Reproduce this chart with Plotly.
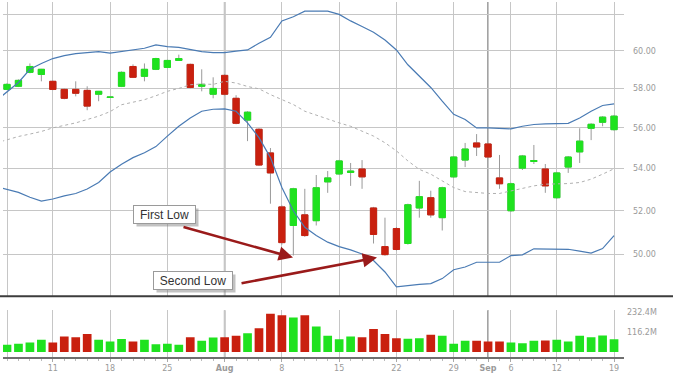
import plotly.graph_objects as go

# ---------------- data ----------------
dates = [
    "2011-07-05", "2011-07-06", "2011-07-07", "2011-07-08",
    "2011-07-11", "2011-07-12", "2011-07-13", "2011-07-14", "2011-07-15",
    "2011-07-18", "2011-07-19", "2011-07-20", "2011-07-21", "2011-07-22",
    "2011-07-25", "2011-07-26", "2011-07-27", "2011-07-28", "2011-07-29",
    "2011-08-01", "2011-08-02", "2011-08-03", "2011-08-04", "2011-08-05",
    "2011-08-08", "2011-08-09", "2011-08-10", "2011-08-11", "2011-08-12",
    "2011-08-15", "2011-08-16", "2011-08-17", "2011-08-18", "2011-08-19",
    "2011-08-22", "2011-08-23", "2011-08-24", "2011-08-25", "2011-08-26",
    "2011-08-29", "2011-08-30", "2011-08-31", "2011-09-01", "2011-09-02",
    "2011-09-06", "2011-09-07", "2011-09-08", "2011-09-09",
    "2011-09-12", "2011-09-13", "2011-09-14", "2011-09-15", "2011-09-16",
    "2011-09-19",
]
band_dates = ["2011-07-01"] + dates

open_ = [57.96, 58.12, 58.85, 58.74, 58.38, 57.96, 57.96, 57.91, 57.71, 57.55,
         58.12, 59.16, 58.64, 59.01, 59.11, 59.48, 59.27, 58.12, 57.71, 58.69,
         57.50, 56.39, 55.93, 54.76, 52.18, 51.32, 51.81, 51.54, 53.36, 53.74,
         53.81, 53.98, 52.13, 50.36, 51.18, 50.50, 52.13, 52.61, 51.68, 53.60,
         54.41, 55.25, 55.20, 53.55, 52.00, 54.02, 54.34, 53.98, 52.61, 54.07,
         54.81, 55.98, 56.28, 55.91]
high = [58.28, 58.48, 59.32, 59.03, 58.42, 58.00, 58.38, 58.12, 57.88, 57.58,
        58.90, 59.27, 59.32, 59.62, 59.52, 59.79, 59.31, 59.01, 58.59, 58.75,
        57.66, 56.84, 55.98, 55.00, 52.25, 53.08, 53.03, 53.69, 53.88, 54.42,
        54.27, 54.41, 52.18, 51.68, 51.25, 52.33, 53.41, 52.94, 53.13, 54.61,
        55.25, 55.69, 55.25, 54.66, 53.32, 54.66, 55.15, 54.22, 53.84, 54.61,
        55.98, 56.23, 56.59, 56.65]
low = [57.92, 58.08, 58.80, 58.38, 57.92, 57.45, 57.60, 56.89, 57.35, 57.53,
       58.08, 58.55, 58.38, 58.97, 59.07, 59.45, 58.02, 57.86, 57.50, 57.65,
       56.18, 55.34, 54.12, 52.33, 50.45, 49.96, 50.80, 51.32, 52.84, 53.70,
       53.17, 53.03, 50.50, 49.95, 50.18, 50.45, 51.68, 51.68, 51.09, 53.55,
       54.07, 54.61, 54.51, 53.03, 51.95, 53.93, 54.22, 52.84, 52.56, 53.79,
       54.27, 55.39, 56.08, 55.86]
close = [58.22, 58.43, 59.16, 59.01, 57.96, 57.50, 57.76, 57.10, 57.86, 57.56,
         58.85, 58.59, 59.01, 59.58, 59.48, 59.58, 58.06, 58.22, 58.01, 57.71,
         56.23, 56.79, 54.17, 53.79, 50.54, 53.03, 50.86, 53.08, 53.55, 54.37,
         53.88, 53.60, 50.91, 50.00, 50.23, 52.28, 52.66, 51.81, 53.08, 54.56,
         54.95, 55.05, 54.56, 53.27, 53.27, 54.61, 54.39, 53.17, 53.79, 54.56,
         55.34, 56.18, 56.54, 56.59]
volume_m = [42, 48, 56, 72, 56, 91, 87, 105, 72, 62,
            76, 62, 72, 46, 48, 42, 87, 66, 85, 87,
            95, 110, 139, 223, 215, 201, 215, 149, 95, 75,
            91, 87, 135, 105, 81, 77, 81, 101, 95, 48,
            66, 66, 62, 62, 56, 52, 66, 68, 72, 62,
            95, 87, 97, 75]

# Bollinger bands (starting Jul 1)
upper_band = [57.35, 57.81, 58.32, 59.01, 59.32, 59.58, 59.74, 59.84, 59.90, 59.95,
              59.87, 59.95, 60.04, 60.13, 60.31, 60.22, 60.18, 60.07, 59.95, 59.90,
              59.90, 59.98, 60.04, 60.40, 60.72, 61.62, 61.85, 62.16, 62.18, 62.16,
              61.98, 61.62, 61.31, 61.00, 60.58, 60.04, 59.25, 58.64, 58.06, 57.35,
              56.68, 56.42, 56.00, 56.00, 55.97, 55.95, 56.08, 56.17, 56.20, 56.20,
              56.23, 56.50, 56.84, 57.13, 57.21]
middle_band = [55.24, 55.40, 55.57, 55.69, 55.82, 56.00, 56.12, 56.25, 56.42, 56.59,
               56.82, 57.17, 57.30, 57.43, 57.63, 57.86, 58.01, 58.20, 58.24, 58.22,
               58.38, 58.29, 58.11, 57.99, 57.69, 57.44, 57.18, 56.84, 56.63, 56.42,
               56.25, 56.08, 55.83, 55.59, 55.26, 54.86, 54.37, 53.96, 53.73, 53.41,
               53.09, 52.90, 52.85, 52.81, 52.81, 52.94, 53.06, 53.17, 53.25, 53.25,
               53.28, 53.33, 53.49, 53.73, 53.99]
lower_band = [53.14, 53.00, 52.86, 52.63, 52.45, 52.55, 52.70, 52.81, 53.02, 53.33,
              53.83, 54.21, 54.53, 54.77, 55.07, 55.59, 56.08, 56.50, 56.84, 56.94,
              56.96, 56.84, 56.25, 55.51, 54.53, 53.09, 52.00, 51.24, 50.86, 50.56,
              50.36, 50.21, 50.03, 49.74, 49.23, 48.58, 48.65, 48.69, 48.72, 48.94,
              49.33, 49.45, 49.66, 49.66, 49.66, 49.96, 49.99, 50.26, 50.26, 50.26,
              50.24, 50.16, 50.07, 50.27, 50.86]

tick_dates = ["2011-07-05", "2011-07-11", "2011-07-18", "2011-07-25", "2011-08-01",
              "2011-08-08", "2011-08-15", "2011-08-22", "2011-08-29", "2011-09-01",
              "2011-09-06", "2011-09-12", "2011-09-19"]
tick_labels = ["", "11", "18", "25", "<b>Aug</b>", "8", "15", "22", "29", "<b>Sep</b>",
               "6", "12", "19"]
month_dates = ["2011-08-01", "2011-09-01"]

price_ticks = [50, 52, 54, 56, 58, 60, 62]
price_tick_labels = ["50.00", "52.00", "54.00", "56.00", "58.00", "60.00", ""]
vol_ticks = [116.2, 232.4]
vol_tick_labels = ["116.2M", "232.4M"]

# ---------------- styling ----------------
GREEN = "#1fe21f"
RED = "#c9200f"
WICK = "#9a9a9a"
BAND = "#4a7bb4"
GRID = "#c6c6c6"
TICKFONT = dict(family="DejaVu Sans", size=8, color="#9a9a9a")

pos = {d: i for i, d in enumerate(band_dates)}
xc = [pos[d] for d in dates]
xb = [pos[d] for d in band_dates]
body_hi = [max(o, c) for o, c in zip(open_, close)]
body_lo = [min(o, c) for o, c in zip(open_, close)]
vol_colors = [GREEN if c >= o else RED for o, c in zip(open_, close)]

fig = go.Figure()

# wicks
fig.add_trace(go.Candlestick(
    x=xc, open=open_, high=high, low=low, close=close,
    increasing=dict(line=dict(color=WICK, width=1), fillcolor=WICK),
    decreasing=dict(line=dict(color=WICK, width=1), fillcolor=WICK),
    whiskerwidth=0, xaxis="x", yaxis="y", hoverinfo="skip"))
# bodies
fig.add_trace(go.Candlestick(
    x=xc, open=open_, high=body_hi, low=body_lo, close=close,
    increasing=dict(line=dict(color=GREEN, width=1), fillcolor=GREEN),
    decreasing=dict(line=dict(color=RED, width=1), fillcolor=RED),
    whiskerwidth=0, xaxis="x", yaxis="y"))

fig.add_trace(go.Scatter(x=xb, y=upper_band, mode="lines",
                         line=dict(color=BAND, width=1.2), xaxis="x", yaxis="y"))
fig.add_trace(go.Scatter(x=xb, y=lower_band, mode="lines",
                         line=dict(color=BAND, width=1.2), xaxis="x", yaxis="y"))
fig.add_trace(go.Scatter(x=xb, y=middle_band, mode="lines",
                         line=dict(color="#b0b0b0", width=1, dash="dot"),
                         xaxis="x", yaxis="y"))

fig.add_trace(go.Bar(x=xc, y=volume_m, marker=dict(color=vol_colors, line=dict(width=0)),
                     xaxis="x2", yaxis="y2"))

xr = [0.65, 54.87]
tickpos = [pos[d] for d in tick_dates]
MAIN_BOTTOM = 0.1709
VOL_TOP = 0.1317

fig.update_layout(
    width=673, height=375,
    margin=dict(l=3, r=49, t=0, b=18),
    paper_bgcolor="white", plot_bgcolor="white",
    showlegend=False, hovermode=False,
    boxgap=0.22, bargap=0.24,
    xaxis=dict(domain=[0, 1], range=xr, anchor="y", tickmode="array",
               tickvals=tickpos, showticklabels=False, showgrid=True,
               gridcolor=GRID, gridwidth=1, zeroline=False, showline=False,
               rangeslider=dict(visible=False), ticks=""),
    yaxis=dict(domain=[MAIN_BOTTOM, 1], type="log", range=[1.68278, 1.79706],
               side="right", tickmode="array", tickvals=price_ticks,
               ticktext=price_tick_labels, showgrid=True, gridcolor=GRID,
               gridwidth=1, zeroline=False, showline=False, ticks="",
               tickfont=TICKFONT, ticklabelstandoff=8),
    xaxis2=dict(domain=[0, 1], range=xr, anchor="y2", tickmode="array",
                tickvals=tickpos, ticktext=tick_labels, showgrid=True,
                gridcolor=GRID, gridwidth=1, zeroline=False, showline=True,
                linecolor="#6f6f6f", linewidth=1.5, ticks="outside", ticklen=3,
                tickcolor="#aaaaaa", tickfont=TICKFONT,
                minor=dict(tickmode="array", tickvals=xc, ticks="outside",
                           ticklen=2, tickcolor="#bbbbbb", showgrid=False)),
    yaxis2=dict(domain=[0, VOL_TOP], range=[-29.05, 244.0], side="right",
                tickmode="array", tickvals=vol_ticks, ticktext=vol_tick_labels,
                showgrid=False, zeroline=False, showline=False, ticks="",
                tickfont=TICKFONT, ticklabelstandoff=2),
)

shapes = []
for d in month_dates:
    for xref, yref in (("x", "y domain"), ("x2", "y2 domain")):
        shapes.append(dict(type="line", xref=xref, yref=yref, x0=pos[d], x1=pos[d],
                           y0=0, y1=1, line=dict(color="#7c7c7c", width=1.5),
                           layer="below"))
shapes.append(dict(type="line", xref="paper", yref="paper", x0=-0.01, x1=1.09,
                   y0=MAIN_BOTTOM, y1=MAIN_BOTTOM,
                   line=dict(color="#3c3c3c", width=2)))
fig.update_layout(shapes=shapes)

ARROW = "#9a1a1a"
LBLFONT = dict(family="Liberation Sans, Arial", size=12, color="#333333")
boxes = [
    ("First Low", 0.260, 0.402, 59),
    ("Second Low", 0.306, 0.2157, 76),
]
annotations = []
for txt, bx, by, w in boxes:
    # drop shadow
    annotations.append(dict(xref="paper", yref="paper", x=bx, y=by, text="&nbsp;",
                            xanchor="center", yanchor="middle",
                            showarrow=False, xshift=3, yshift=-3, width=w, height=15,
                            font=dict(family="Liberation Sans, Arial", size=12,
                                      color="rgba(0,0,0,0)"),
                            bgcolor="rgba(120,120,120,0.45)",
                            bordercolor="rgba(120,120,120,0.0)", borderwidth=1,
                            borderpad=1))
    annotations.append(dict(xref="paper", yref="paper", x=bx, y=by, text=txt,
                            xanchor="center", yanchor="middle",
                            showarrow=False, width=w, height=15, font=LBLFONT,
                            bgcolor="white", bordercolor="#9a9a9a", borderwidth=1,
                            borderpad=1))
arrows = [
    (0.467, 0.2801, -111, -31),
    (0.6023, 0.2801, -137, 26),
]
for tx, ty, ax, ay in arrows:
    annotations.append(dict(xref="paper", yref="paper", x=tx, y=ty, text="",
                            showarrow=True, ax=ax, ay=ay, arrowhead=2, arrowsize=1.1,
                            arrowwidth=2.6, arrowcolor=ARROW, standoff=0))
fig.update_layout(annotations=annotations)

fig.write_html("out.html", config={"displayModeBar": False},
               post_script="document.body.style.margin='0px';"
                           "document.body.style.padding='0px';")
